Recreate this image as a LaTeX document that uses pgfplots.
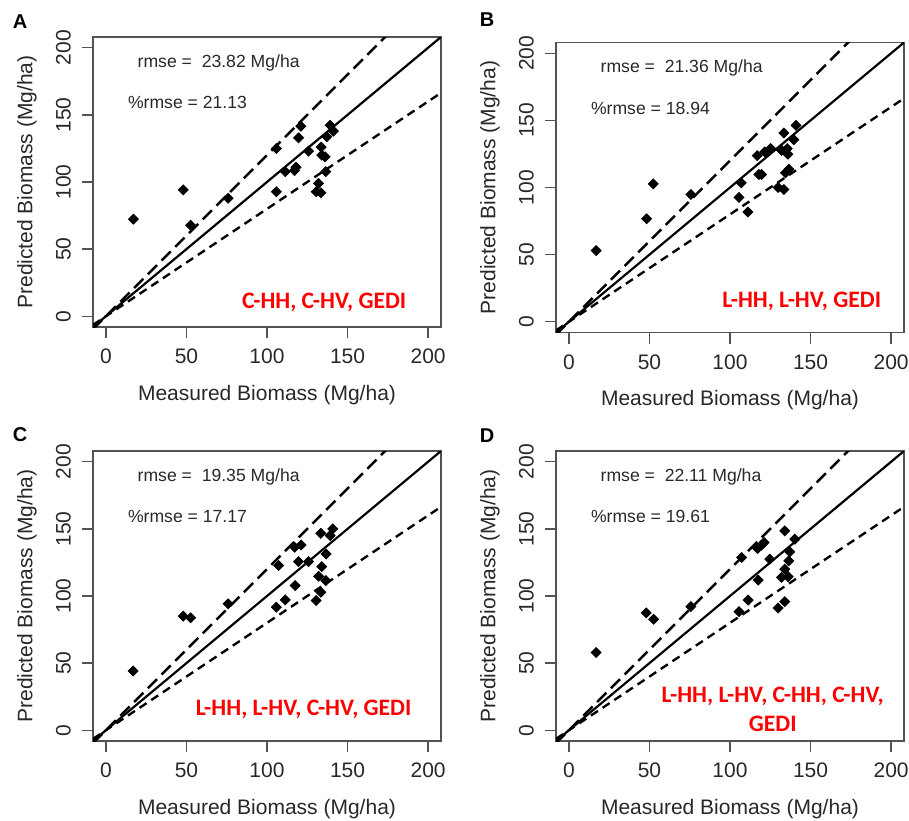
\documentclass[border=0pt]{standalone}
\usepackage{pgfplots}
\pgfplotsset{compat=1.18}
\usepackage{fontspec}
\setmainfont{Liberation Sans}
\newfontfamily\carlito{Carlito}
\definecolor{labred}{RGB}{255,0,0}
\definecolor{ink}{RGB}{40,40,40}

\pgfplotsset{
  biomass/.style={
    scale only axis,
    width=174pt, height=145pt,
    anchor=north west,
    xmin=-8, xmax=208, ymin=-8, ymax=208,
    xtick={0,50,100,150,200}, ytick={0,50,100,150,200},
    xtick pos=bottom, ytick pos=left,
    tick align=outside, major tick length=5.5pt,
    axis line style={line width=0.8pt, ink!80},
    tick style={line width=0.7pt, ink!80},
    /pgf/number format/assume math mode=true,
    tick label style={font=\fontsize{10.5}{12}\selectfont, text=ink},
    xticklabel style={yshift=-2pt},
    yticklabel style={xshift=-2pt, rotate=90, anchor=south},
    every axis x label/.style={at={(rel axis cs:0.5,0)}, yshift=-34pt, anchor=center},
    every axis y label/.style={at={(rel axis cs:0,0.5)}, xshift=-33pt, rotate=90, anchor=center},
    label style={font=\fontsize{10.5}{12}\selectfont, text=ink},
    xlabel={Measured Biomass (Mg/ha)},
    ylabel={Predicted Biomass (Mg/ha)},
  },
  oneone/.style={black, line width=1.1pt},
  upper/.style={black, line width=1.2pt, dash pattern=on 6.5pt off 3.2pt},
  lower/.style={black, line width=1.2pt, dash pattern=on 4.2pt off 2.8pt},
  pts/.style={only marks, mark=square*, mark size=1.75pt, black,
    mark options={rotate=45}},
}
\tikzset{
  stat/.style={anchor=west, inner sep=0pt, font=\fontsize{8.8}{10}\selectfont, text=ink},
  tag/.style={font=\carlito\bfseries\fontsize{11.8}{14.5}\selectfont, text=labred, align=center},
  letter/.style={font=\bfseries\fontsize{10}{12}\selectfont},
}

\newcommand{\guides}{%
  \addplot[oneone] coordinates {(-8,-8) (208,208)};
  \addplot[upper] coordinates {(-8,-9.6) (208,249.6)};
  \addplot[lower] coordinates {(-8,-6.4) (208,166.4)};
}

\begin{document}
\begin{tikzpicture}[x=0.5pt, y=0.5pt]
\useasboundingbox (0,0) rectangle (909,-820);

% A
\node[letter] at (20,-22) {A};
\begin{axis}[biomass, at={(46.5pt,-18.5pt)}]
\guides
\addplot[pts] coordinates {
  (17.1,72.3) (48.0,94.1) (52.6,67.8) (75.9,87.9) (105.8,125.0) (105.8,92.8)
  (111.3,107.7) (117.0,108.5) (118.0,111.0) (119.6,132.9) (121.0,141.6)
  (125.8,123.0) (130.5,92.8) (132.0,99.0) (133.4,92.0) (133.6,126.0)
  (134.0,120.0) (136.0,118.8) (136.5,107.7) (137.1,133.7) (139.2,142.3)
  (141.2,137.9)
};
\node[stat] at (axis cs:19.5,189) {rmse =\ \ 23.82 Mg/ha};
\node[stat] at (axis cs:13.5,159) {\%rmse = 21.13};
\node[tag] at (axis cs:135.5,10.5) {C-HH, C-HV, GEDI};
\end{axis}

% B
\node[letter] at (487,-20) {B};
\begin{axis}[biomass, at={(278pt,-21.25pt)}]
\guides
\addplot[pts] coordinates {
  (16.9,53.0) (48.2,76.7) (52.4,102.7) (75.7,94.8) (105.6,92.6) (107.0,103.5)
  (111.1,81.7) (116.9,123.8) (117.9,109.7) (119.6,109.7) (121.6,126.5)
  (125.2,129.0) (129.9,100.0) (132.0,127.7) (133.4,98.5) (133.4,140.6)
  (134.4,110.9) (135.5,129.0) (135.9,124.8) (136.5,113.6) (139.6,135.6)
  (141.0,146.3)
};
\node[stat] at (axis cs:19.5,189) {rmse =\ \ 21.36 Mg/ha};
\node[stat] at (axis cs:13.5,159) {\%rmse = 18.94};
\node[tag] at (axis cs:144.5,15) {L-HH, L-HV, GEDI};
\end{axis}

% C
\node[letter] at (20,-435) {C};
\begin{axis}[biomass, at={(46.5pt,-225.5pt)}]
\guides
\addplot[pts] coordinates {
  (16.9,44.1) (48.0,85.0) (52.6,83.8) (75.9,94.2) (105.8,91.7) (107.2,122.7)
  (111.3,97.1) (117.5,107.8) (117.1,136.3) (119.6,125.6) (121.2,138.0)
  (125.8,125.6) (130.5,96.7) (132.0,114.7) (133.4,102.8) (133.4,146.7)
  (134.0,121.9) (136.5,111.5) (136.7,131.3) (139.2,145.0) (140.8,150.0)
};
\node[stat] at (axis cs:19.5,189) {rmse =\ \ 19.35 Mg/ha};
\node[stat] at (axis cs:13.5,159) {\%rmse = 17.17};
\node[tag] at (axis cs:122.7,15.6) {L-HH, L-HV, C-HV, GEDI};
\end{axis}

% D
\node[letter] at (487,-436) {D};
\begin{axis}[biomass, at={(278pt,-225.5pt)}]
\guides
\addplot[pts] coordinates {
  (16.9,57.9) (48.0,87.4) (52.6,82.7) (75.7,92.1) (105.6,88.4) (107.2,128.7)
  (111.3,97.0) (117.5,111.9) (117.1,135.4) (119.6,137.9) (121.2,139.9)
  (124.7,127.5) (129.9,91.1) (132.0,113.9) (134.0,95.8) (134.0,148.5)
  (134.0,120.0) (136.1,114.4) (136.5,126.2) (137.1,132.9) (140.2,142.3)
};
\node[stat] at (axis cs:19.5,189) {rmse =\ \ 22.11 Mg/ha};
\node[stat] at (axis cs:13.5,159) {\%rmse = 19.61};
\node[tag] at (axis cs:126.5,15.3) {L-HH, L-HV, C-HH, C-HV,\\GEDI};
\end{axis}
\end{tikzpicture}
\end{document}
